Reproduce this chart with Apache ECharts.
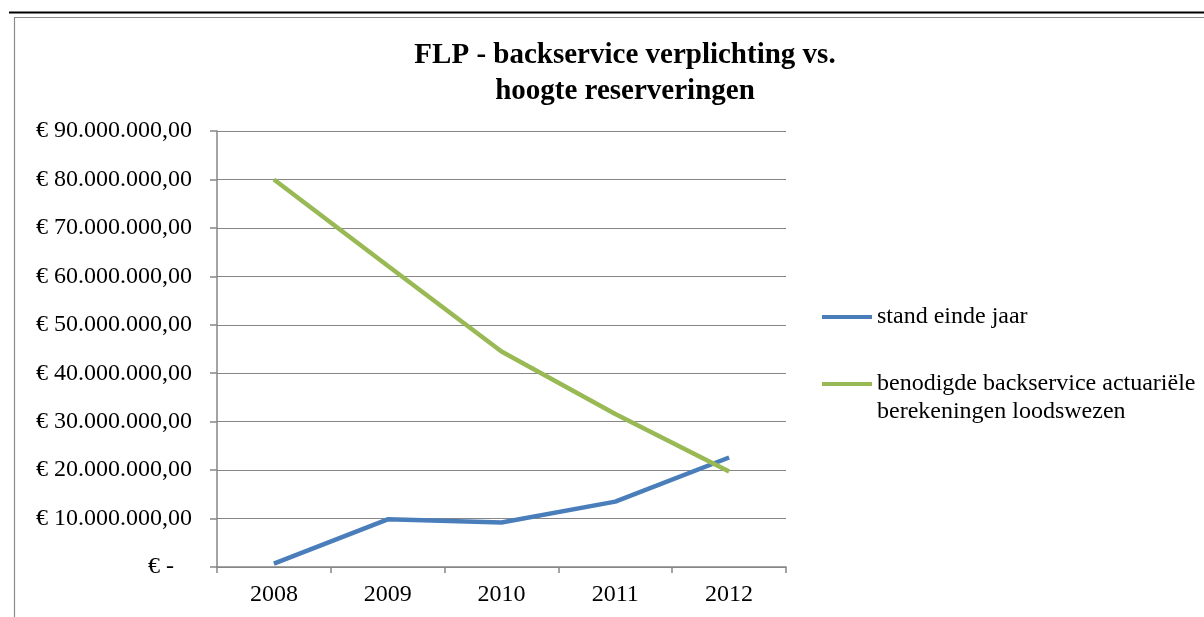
<!DOCTYPE html>
<html>
<head>
<meta charset="utf-8">
<script src="https://cdn.jsdelivr.net/npm/echarts@6/dist/echarts.min.js"></script>
<style>
html,body{margin:0;padding:0;background:#fff;}
#chart{width:1204px;height:617px;}
</style>
</head>
<body>
<div id="chart"></div>
<script>
var categories = ['2008', '2009', '2010', '2011', '2012'];
var standEindeJaar = [700000, 9850000, 9200000, 13500000, 22600000];
var benodigdeBackservice = [80000000, 62200000, 44500000, 31600000, 19700000];
var seriesNames = ['stand einde jaar', 'benodigde backservice actuariële\nberekeningen loodswezen'];
var yTicks = { min: 0, max: 90000000, interval: 10000000 };

function fmtEuro(v) {
  if (v === 0) return '€ -   ';
  var s = String(Math.round(v));
  s = s.replace(/\B(?=(\d{3})+(?!\d))/g, '.');
  return '€ ' + s + ',00';
}

var FONT = '"Liberation Serif", "Times New Roman", serif';
var chart = echarts.init(document.getElementById('chart'));
chart.setOption({
  backgroundColor: '#ffffff',
  animation: false,
  title: {
    text: 'FLP - backservice verplichting vs.\nhoogte reserveringen',
    left: 620,
    top: 33,
    textAlign: 'center',
    textStyle: { fontFamily: FONT, fontWeight: 'bold', fontSize: 29, lineHeight: 36, color: '#000' }
  },
  grid: { left: 217, right: 418, top: 131, bottom: 50, containLabel: false },
  legend: {
    orient: 'vertical',
    left: 817,
    top: 298,
    itemWidth: 50,
    itemHeight: 4,
    itemGap: 11,
    icon: 'rect',
    textStyle: { fontFamily: FONT, fontSize: 24, lineHeight: 28, color: '#000' },
    formatter: function (name) {
      return name.indexOf('\n') >= 0 ? ' \n' + name : name;
    },
    data: seriesNames
  },
  xAxis: {
    type: 'category',
    data: categories,
    boundaryGap: true,
    axisLine: { lineStyle: { color: '#868686', width: 1.5 } },
    axisTick: { show: true, length: 6, alignWithLabel: false, lineStyle: { color: '#868686', width: 1.5 } },
    axisLabel: { margin: 16, fontFamily: FONT, fontSize: 24, color: '#000' },
    splitLine: { show: false }
  },
  yAxis: {
    type: 'value',
    min: yTicks.min,
    max: yTicks.max,
    interval: yTicks.interval,
    axisLine: { show: true, lineStyle: { color: '#868686', width: 1.5 } },
    axisTick: { show: true, length: 7, lineStyle: { color: '#868686', width: 1.5 } },
    axisLabel: { margin: 25, fontFamily: FONT, fontSize: 24, color: '#000', formatter: fmtEuro },
    splitLine: { show: true, lineStyle: { color: '#868686', width: 1.2 } }
  },
  graphic: [
    { type: 'line', shape: { x1: 9, y1: 12.5, x2: 1204, y2: 12.5 }, style: { stroke: '#000', lineWidth: 2 }, silent: true },
    { type: 'polyline', shape: { points: [[14.5, 617], [14.5, 17.5], [1204, 17.5]] }, style: { stroke: '#8c8c8c', lineWidth: 1.2, fill: null }, silent: true }
  ],
  series: [
    {
      name: seriesNames[0],
      type: 'line',
      data: standEindeJaar,
      symbol: 'none',
      color: '#4a7ebb',
      lineStyle: { width: 4.5, color: '#4a7ebb' }
    },
    {
      name: seriesNames[1],
      type: 'line',
      data: benodigdeBackservice,
      symbol: 'none',
      color: '#98b954',
      lineStyle: { width: 4.5, color: '#98b954' }
    }
  ]
});
</script>
</body>
</html>
